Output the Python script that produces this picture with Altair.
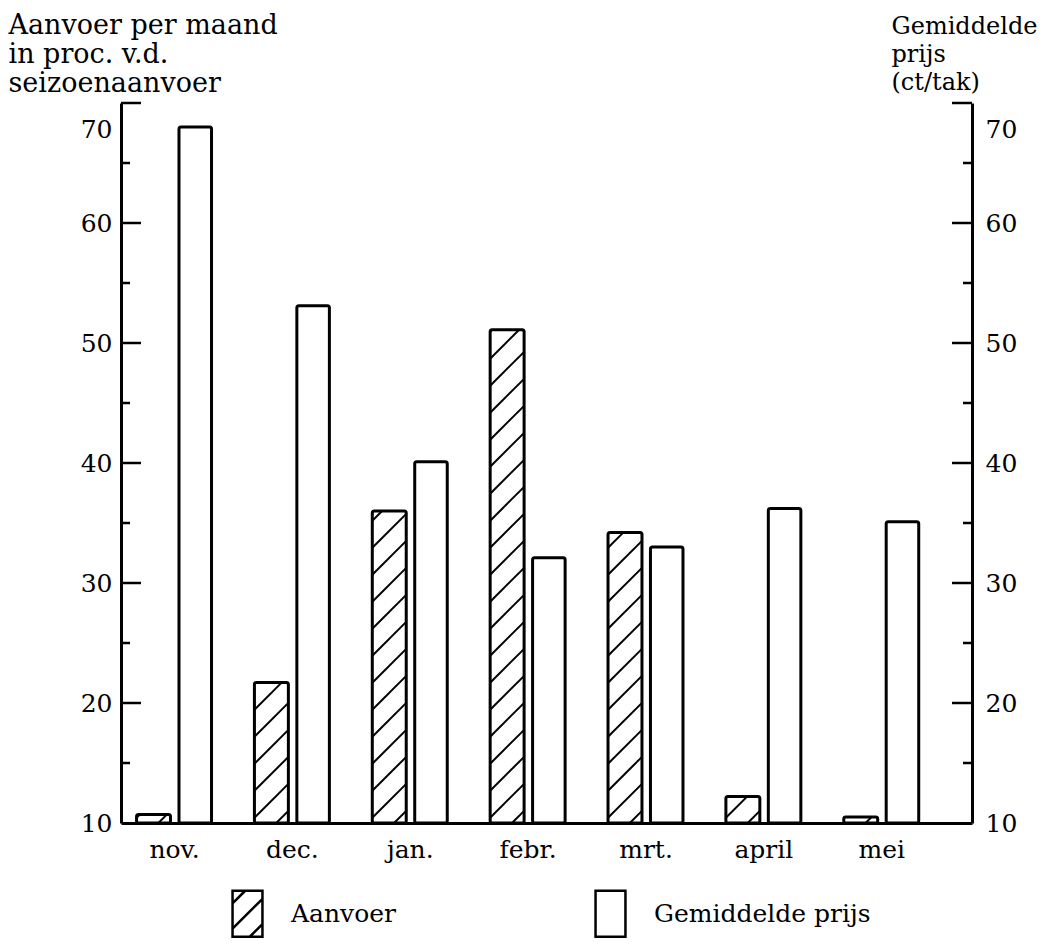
import json
import altair as alt
import pandas as pd

# ---------------- data ----------------
months = ["nov.", "dec.", "jan.", "febr.", "mrt.", "april", "mei"]
aanvoer = [10.7, 21.7, 36.0, 51.1, 34.2, 12.2, 10.5]      # left axis (proc.)
prijs = [68.0, 53.1, 40.1, 32.1, 33.0, 36.2, 35.1]        # right axis (ct/tak)
series_names = ["Aanvoer", "Gemiddelde prijs"]
y_labels = [10, 20, 30, 40, 50, 60, 70]
y_major = [20, 30, 40, 50, 60, 70]
y_minor = [15, 25, 35, 45, 55, 65]
left_title = ["Aanvoer per maand", "in proc. v.d.", "seizoenaanvoer"]
right_title = ["Gemiddelde", "prijs", "(ct/tak)"]

# ---------------- layout / style ----------------
W, H = 851, 720
FONT = "DejaVu Serif"
FS = 25
BASE = 10
Y_DOMAIN = [10, 70]
X_DOMAIN = [-0.45, 6.77]
OFF_A = (-0.318, -0.030)
OFF_P = (0.042, 0.318)
HATCH_SPACING_PX = 27

rows = []
for i, m in enumerate(months):
    rows.append(dict(idx=i, month=m, series=series_names[0], value=aanvoer[i],
                     x0=i + OFF_A[0], x1=i + OFF_A[1], base=BASE))
    rows.append(dict(idx=i, month=m, series=series_names[1], value=prijs[i],
                     x0=i + OFF_P[0], x1=i + OFF_P[1], base=BASE))
bars = pd.DataFrame(rows)

# hatch lines (45 degrees in pixel space) derived from the hatched bars
px_per_x = W / (X_DOMAIN[1] - X_DOMAIN[0])
px_per_y = H / (Y_DOMAIN[1] - Y_DOMAIN[0])
hatch = []
for r in bars[bars.series == series_names[0]].itertuples():
    wpx = (r.x1 - r.x0) * px_per_x
    rise = wpx / px_per_y
    step = HATCH_SPACING_PX / px_per_y
    y0 = BASE - rise + 0.45 * step
    while y0 < r.value:
        t0 = max(0.0, (BASE - y0) / rise)
        t1 = min(1.0, (r.value - y0) / rise)
        if t1 > t0 + 1e-6:
            hatch.append(dict(hx0=r.x0 + (r.x1 - r.x0) * t0, hy0=y0 + rise * t0,
                              hx1=r.x0 + (r.x1 - r.x0) * t1, hy1=y0 + rise * t1))
        y0 += step
hatch = pd.DataFrame(hatch)

major = pd.DataFrame({"v": y_major})
minor = pd.DataFrame({"v": y_minor})
legend_df = pd.DataFrame({"series": series_names})

xs = alt.Scale(domain=X_DOMAIN, nice=False, zero=False)
ys = alt.Scale(domain=Y_DOMAIN, nice=False, zero=False)

xaxis = alt.Axis(values=list(range(len(months))),
                 labelExpr=json.dumps(months) + "[datum.value]",
                 title=None, tickSize=0, grid=False, labelFlush=False,
                 domainColor="black", domainWidth=3,
                 labelFont=FONT, labelFontSize=FS, labelColor="black",
                 labelPadding=14)

label_shift = alt.condition("datum.value == 70", alt.value(26), alt.value(0))

left_axis = alt.Axis(orient="left", values=y_labels, grid=False, tickSize=0,
                     domainColor="black", domainWidth=3,
                     labelFont=FONT, labelFontSize=FS, labelColor="black",
                     labelPadding=9, labelOffset=label_shift,
                     title=left_title, titleAngle=0, titleAlign="left",
                     titleBaseline="alphabetic", titleX=-113, titleY=-70,
                     titleFont=FONT, titleFontSize=27, titleFontWeight="normal",
                     titleColor="black", titleLineHeight=29)

right_axis = alt.Axis(orient="right", values=y_labels, grid=False, tickSize=0,
                      domainColor="black", domainWidth=3,
                      labelFont=FONT, labelFontSize=FS, labelColor="black",
                      labelPadding=13, labelOffset=label_shift,
                      title=right_title, titleAngle=0, titleAlign="left",
                      titleBaseline="alphabetic", titleX=-81, titleY=-70,
                      titleFont=FONT, titleFontSize=24, titleFontWeight="normal",
                      titleColor="black", titleLineHeight=28)

X0 = alt.X("x0:Q", scale=xs, axis=xaxis)
X1 = alt.X2("x1:Q")

bar_fill = alt.Chart(bars).mark_bar(fill="white", strokeWidth=0, cornerRadius=2).encode(
    x=X0, x2=X1,
    y=alt.Y("value:Q", scale=ys, axis=left_axis),
    y2=alt.Y2("base:Q"),
)

hatch_layer = alt.Chart(hatch).mark_rule(color="black", strokeWidth=2).encode(
    x=alt.X("hx0:Q", scale=xs, axis=xaxis), x2="hx1:Q",
    y=alt.Y("hy0:Q", scale=ys, axis=None), y2="hy1:Q",
)

bar_outline = alt.Chart(bars).mark_bar(fillOpacity=0, stroke="black", strokeWidth=3,
                                       cornerRadius=2).encode(
    x=X0, x2=X1,
    y=alt.Y("value:Q", scale=ys, axis=None),
    y2=alt.Y2("base:Q"),
)

tick_lm = alt.Chart(major).mark_rule(color="black", strokeWidth=2.5).encode(
    y=alt.Y("v:Q", scale=ys, axis=None), x=alt.value(0), x2=alt.value(20))
tick_ln = alt.Chart(minor).mark_rule(color="black", strokeWidth=2.5).encode(
    y=alt.Y("v:Q", scale=ys, axis=None), x=alt.value(0), x2=alt.value(9))
tick_rm = alt.Chart(major).mark_rule(color="black", strokeWidth=2.5).encode(
    y=alt.Y("v:Q", scale=ys, axis=right_axis), x=alt.value(W), x2=alt.value(W - 20))
tick_rn = alt.Chart(minor).mark_rule(color="black", strokeWidth=2.5).encode(
    y=alt.Y("v:Q", scale=ys, axis=None), x=alt.value(W), x2=alt.value(W - 9))

box_path = "M-0.65,-1L0.65,-1L0.65,1L-0.65,1Z"
hatch_path = (box_path +
              "M-0.65,-0.45L-0.1,-1"
              "M-0.65,0.65L0.65,-0.65"
              "M0.1,1L0.65,0.45")

legend_layer = alt.Chart(legend_df).mark_point(
    clip=True, filled=False, color="black", strokeWidth=2.5, opacity=1
).encode(
    x=alt.value(0), y=alt.value(-2000),
    shape=alt.Shape("series:N",
                    scale=alt.Scale(domain=series_names, range=[hatch_path, box_path]),
                    legend=alt.Legend(title=None, orient="none", legendX=102, legendY=786,
                                      direction="horizontal", columns=2, padding=0,
                                      symbolSize=2116, symbolStrokeWidth=2.5,
                                      symbolStrokeColor="black",
                                      symbolOpacity=1, labelFont=FONT, labelFontSize=FS,
                                      labelColor="black", labelOffset=19, labelLimit=400,
                                      columnPadding=190)),
)

chart = alt.layer(
    bar_fill, hatch_layer, bar_outline, tick_lm, tick_ln, tick_rm, tick_rn, legend_layer
).resolve_axis(y="independent").properties(
    width=W, height=H, autosize="none",
    padding={"left": 113, "top": 95, "right": 73, "bottom": 119},
).configure_view(strokeWidth=0)

chart.save("out.html", embed_options={"renderer": "svg", "actions": False})
